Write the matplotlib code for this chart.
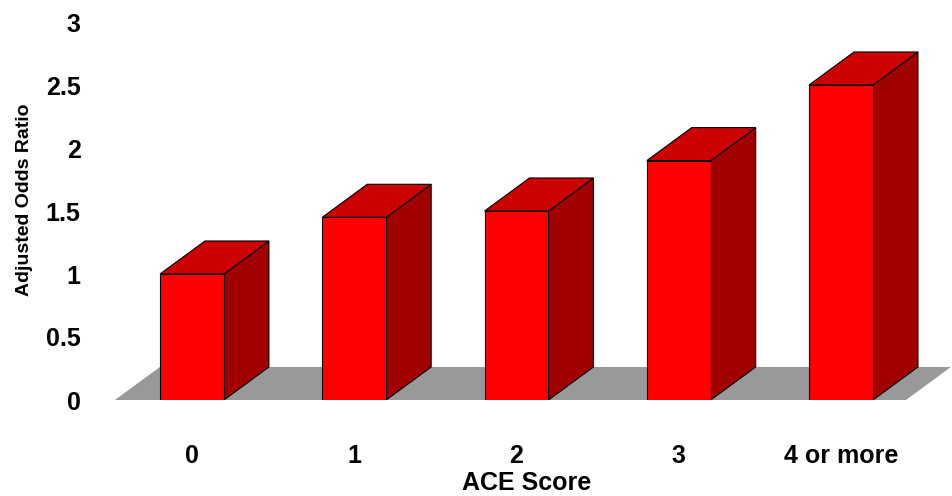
import matplotlib
matplotlib.use("Agg")
import matplotlib.pyplot as plt
from matplotlib.patches import Polygon

categories = ["0", "1", "2", "3", "4 or more"]
values = [1.0, 1.45, 1.5, 1.9, 2.5]
yticks = [0, 0.5, 1, 1.5, 2, 2.5, 3]
ytick_labels = ["0", "0.5", "1", "1.5", "2", "2.5", "3"]

plt.rcParams['font.family'] = ['Liberation Sans', 'DejaVu Sans']
fig = plt.figure(figsize=(9.53, 4.96), dpi=100)
ax = fig.add_axes([100/953, 96/496, 853/953, 378/496])
ax.set_xlim(-0.567, 4.69)
ax.set_ylim(0, 3)
for s in ax.spines.values():
    s.set_visible(False)

w = 0.394
dx, dy = 0.277, 0.262
# floor
ax.add_patch(Polygon([(-0.475, 0), (-0.475+dx, dy), (4.4+dx, dy), (4.4, 0)],
                     closed=True, facecolor='#999999', edgecolor='none', zorder=1))
for i, v in enumerate(values):
    x0, x1 = i - w/2, i + w/2
    ax.add_patch(Polygon([(x1, 0), (x1+dx, dy), (x1+dx, v+dy), (x1, v)],
                         facecolor='#A00000', edgecolor='black', lw=0.8, zorder=2))
    ax.add_patch(Polygon([(x0, v), (x0+dx, v+dy), (x1+dx, v+dy), (x1, v)],
                         facecolor='#CC0000', edgecolor='black', lw=0.8, zorder=2))
    ax.add_patch(Polygon([(x0, 0), (x0, v), (x1, v), (x1, 0)],
                         facecolor='#FF0000', edgecolor='black', lw=0.8, zorder=3))

ax.set_yticks(yticks)
ax.set_yticklabels(ytick_labels, fontsize=18, fontweight='bold')
ax.tick_params(axis='y', length=0, pad=14)
ax.set_xticks(range(len(categories)))
ax.set_xticklabels(categories, fontsize=18, fontweight='bold')
ax.tick_params(axis='x', length=0, pad=32)
ax.set_xlabel("ACE Score", fontsize=18, fontweight='bold', labelpad=2)
fig.text(25/953, 0.597, "Adjusted Odds Ratio", rotation=90, fontsize=14,
         fontweight='bold', ha='center', va='center')
fig.savefig("out.png", dpi=100)
